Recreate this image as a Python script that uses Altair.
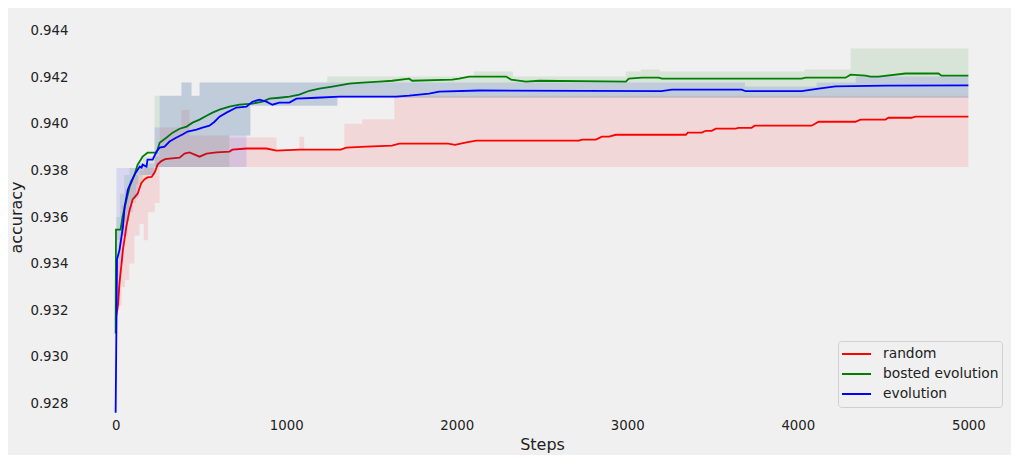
import altair as alt
import pandas as pd

series_names = ["random", "bosted evolution", "evolution"]
series_colors = ["red", "green", "blue"]

x_ticks = [0, 1000, 2000, 3000, 4000, 5000]
y_ticks = [0.928, 0.930, 0.932, 0.934, 0.936, 0.938, 0.940, 0.942, 0.944]

# ---- mean curves ----
random_steps = [0, 13, 23, 43, 63, 82, 100, 129, 150, 170, 187, 211, 230, 246, 268, 290, 316, 375, 404,
                433, 492, 533, 591, 667, 685, 767, 884, 943, 1077, 1320, 1352, 1470, 1620, 1663, 1950,
                1990, 2050, 2114, 2717, 2734, 2816, 2851, 2893, 2933, 3343, 3355, 3437, 3460, 3495,
                3519, 3636, 3653, 3729, 3747, 4081, 4122, 4338, 4367, 4514, 4531, 4666, 4690, 5000]
random_acc = [0.9316, 0.93217, 0.93318, 0.9346, 0.9356, 0.9363, 0.93675, 0.93700, 0.93745, 0.93762,
              0.93770, 0.93772, 0.93793, 0.93825, 0.93840, 0.93848, 0.93851, 0.93855, 0.93872,
              0.93877, 0.93859, 0.93872, 0.93877, 0.93881, 0.93889, 0.93894, 0.93894, 0.93885,
              0.93889, 0.93889, 0.93898, 0.93902, 0.93906, 0.93915, 0.93915, 0.93910, 0.93919,
              0.93928, 0.93928, 0.93932, 0.93932, 0.93945, 0.93945, 0.93953, 0.93953, 0.93962,
              0.93962, 0.93970, 0.93970, 0.93979, 0.93979, 0.93983, 0.93983, 0.93992, 0.93992,
              0.94009, 0.94009, 0.94018, 0.94018, 0.94026, 0.94026, 0.94031, 0.94031]

boosted_steps = [0, 2, 29, 41, 64, 82, 111, 129, 141, 158, 187, 240, 258, 299, 334, 375, 416, 451, 492,
                 533, 568, 609, 667, 726, 802, 861, 902, 960, 1019, 1077, 1136, 1194, 1271, 1370,
                 1446, 1546, 1622, 1721, 1739, 1973, 2014, 2073, 2289, 2319, 2406, 2483, 2992, 3009,
                 3086, 3185, 3203, 4022, 4046, 4280, 4309, 4397, 4426, 4473, 4631, 4825, 4842, 5000]
boosted_acc = [0.9310, 0.93546, 0.93546, 0.93602, 0.93675, 0.93730, 0.93782, 0.93825, 0.93838,
               0.93859, 0.93876, 0.93876, 0.93919, 0.93941, 0.93962, 0.93979, 0.93988, 0.94005,
               0.94018, 0.94035, 0.94048, 0.94061, 0.94074, 0.94082, 0.94087, 0.94095, 0.94108,
               0.94112, 0.94117, 0.94125, 0.94142, 0.94151, 0.94160, 0.94173, 0.94177, 0.94181,
               0.94185, 0.94194, 0.94185, 0.94190, 0.94194, 0.94203, 0.94203, 0.94190, 0.94181,
               0.94185, 0.94181, 0.94194, 0.94198, 0.94198, 0.94194, 0.94194, 0.94198, 0.94198,
               0.94211, 0.94207, 0.94203, 0.94203, 0.94216, 0.94216, 0.94207, 0.94207]

evolution_steps = [0, 3, 8, 23, 43, 53, 72, 92, 111, 129, 141, 152, 158, 181, 187, 217, 240, 258, 287,
                   316, 357, 392, 422, 474, 509, 550, 580, 609, 650, 708, 767, 802, 843, 884, 919, 960,
                   1019, 1060, 1177, 1312, 1645, 1721, 1838, 1897, 2131, 3200, 3261, 3671, 3694, 4022,
                   4122, 4221, 4514, 5000]
evolution_acc = [0.9276, 0.9300, 0.93417, 0.9346, 0.9356, 0.93646, 0.93718, 0.93753, 0.93782, 0.93803,
                 0.93816, 0.93812, 0.93825, 0.93816, 0.93846, 0.93846, 0.93881, 0.93898, 0.93902,
                 0.93924, 0.93941, 0.93954, 0.93967, 0.93975, 0.93984, 0.93992, 0.94009, 0.94031,
                 0.94048, 0.94070, 0.94074, 0.94095, 0.94104, 0.94095, 0.94082, 0.94091, 0.94091,
                 0.94108, 0.94112, 0.94117, 0.94117, 0.94121, 0.94130, 0.94138, 0.94143, 0.94140,
                 0.94147, 0.94147, 0.94140, 0.94140, 0.94151, 0.94161, 0.94164, 0.94165]

# ---- shaded ranges (step functions) ----
random_band_steps = [0, 10, 20, 35, 55, 80, 110, 140, 165, 190, 230, 258, 386, 433, 667, 943, 1077,
                     1106, 1341, 1446, 1634, 5000]
random_band_low = [0.9316, 0.9320, 0.9322, 0.9330, 0.9333, 0.9340, 0.9352, 0.9357, 0.9350, 0.9362,
                   0.9366, 0.93815, 0.93815, 0.93815, 0.93815, 0.93815, 0.93815, 0.93815, 0.93815,
                   0.93815, 0.93815, 0.93815]
random_band_high = [0.9322, 0.9340, 0.9352, 0.9365, 0.9372, 0.9376, 0.9378, 0.9380, 0.9381, 0.9381,
                    0.9386, 0.93984, 0.9406, 0.9395, 0.93941, 0.9389, 0.93945, 0.9389, 0.9400,
                    0.9402, 0.94121, 0.94121]

boosted_band_steps = [0, 2, 25, 50, 80, 120, 160, 228, 386, 445, 492, 667, 790, 1241, 1300, 2100, 2330,
                      2990, 3080, 3190, 4040, 4310, 5000]
boosted_band_low = [0.9310, 0.9350, 0.9352, 0.9358, 0.9366, 0.9374, 0.9378, 0.93815, 0.93815, 0.93815,
                    0.93815, 0.9395, 0.94078, 0.94078, 0.94112, 0.94112, 0.94112, 0.94112, 0.94112,
                    0.94112, 0.94112, 0.94112, 0.94112]
boosted_band_high = [0.9310, 0.9360, 0.9370, 0.9378, 0.9381, 0.9381, 0.9386, 0.94121, 0.94177, 0.94121,
                     0.94177, 0.94177, 0.94177, 0.94203, 0.94203, 0.94225, 0.94203, 0.94225,
                     0.94233, 0.94225, 0.94233, 0.94323, 0.94323]

evolution_band_steps = [0, 5, 25, 45, 70, 100, 133, 228, 258, 386, 445, 492, 767, 790, 1300, 3690, 4110,
                        4340, 5000]
evolution_band_low = [0.9276, 0.9322, 0.9340, 0.9352, 0.9362, 0.9368, 0.9378, 0.93815, 0.93815, 0.93815,
                      0.93815, 0.93815, 0.9395, 0.94078, 0.94112, 0.94112, 0.94112, 0.94112, 0.94112]
evolution_band_high = [0.9276, 0.9381, 0.9381, 0.9381, 0.9381, 0.9381, 0.9383, 0.93984, 0.94121,
                       0.94177, 0.94121, 0.94177, 0.94177, 0.94177, 0.94177, 0.94160, 0.94177,
                       0.94203, 0.94203]

line_sets = [
    ("random", random_steps, random_acc),
    ("bosted evolution", boosted_steps, boosted_acc),
    ("evolution", evolution_steps, evolution_acc),
]
band_sets = [
    ("random", random_band_steps, random_band_low, random_band_high),
    ("bosted evolution", boosted_band_steps, boosted_band_low, boosted_band_high),
    ("evolution", evolution_band_steps, evolution_band_low, evolution_band_high),
]

FONT = "DejaVu Sans"
color_scale = alt.Scale(domain=series_names, range=series_colors)

x_enc = alt.X(
    "step:Q",
    scale=alt.Scale(domain=[-250, 5250], nice=False, zero=False),
    axis=alt.Axis(values=x_ticks, format="d", title="Steps", titleY=34, titleBaseline="alphabetic",
                  labelPadding=14, labelBaseline="alphabetic"),
)
y_axis = alt.Axis(values=y_ticks, format=".3f", title="accuracy", titleAngle=270, titleX=-57,
                  titleY=198, titleAlign="center", titleBaseline="middle", labelPadding=5)
y_scale = alt.Scale(domain=[0.9275, 0.9445], nice=False, zero=False)

legend = alt.Legend(title=None, orient="none", legendX=765, legendY=322,
                    symbolType="stroke", symbolSize=841, symbolStrokeWidth=2,
                    clipHeight=20, labelOffset=11, padding=3, rowPadding=0,
                    strokeColor="#d0d0d0", fillColor="#f0f0f0", cornerRadius=3)

layers = []
for (name, bs, lo, hi), (_, ls, la), col in zip(band_sets, line_sets, series_colors):
    bdf = pd.DataFrame({"step": bs, "low": lo, "high": hi})
    ldf = pd.DataFrame({"step": ls, "acc": la, "series": name})
    band = alt.Chart(bdf).mark_area(
        fill=col, fillOpacity=0.1, interpolate="step-after", clip=True
    ).encode(
        x=x_enc,
        y=alt.Y("low:Q", scale=y_scale, axis=y_axis),
        y2="high:Q",
    )
    line = alt.Chart(ldf).mark_line(strokeWidth=1.8, clip=True).encode(
        x=x_enc,
        y=alt.Y("acc:Q", scale=y_scale, axis=y_axis),
        color=alt.Color("series:N", scale=color_scale, sort=series_names, legend=legend),
    )
    layers += [band, line]

chart = alt.layer(*layers).properties(
    width=938, height=396,
    autosize=alt.AutoSizeParams(type="none"),
    padding={"left": 65, "top": 11, "right": 0, "bottom": 40},
    background="#f0f0f0",
).configure_view(stroke=None).configure_axis(
    domain=False, ticks=False, tickSize=0, grid=False,
    labelFont=FONT, labelFontSize=13.3, labelColor="#222222",
    titleFont=FONT, titleFontSize=16, titleFontWeight="normal", titleColor="#222222",
).configure_legend(
    labelFont=FONT, labelFontSize=13.8, labelColor="#222222",
)

chart.save("out.html", embed_options={"renderer": "svg", "actions": False})
